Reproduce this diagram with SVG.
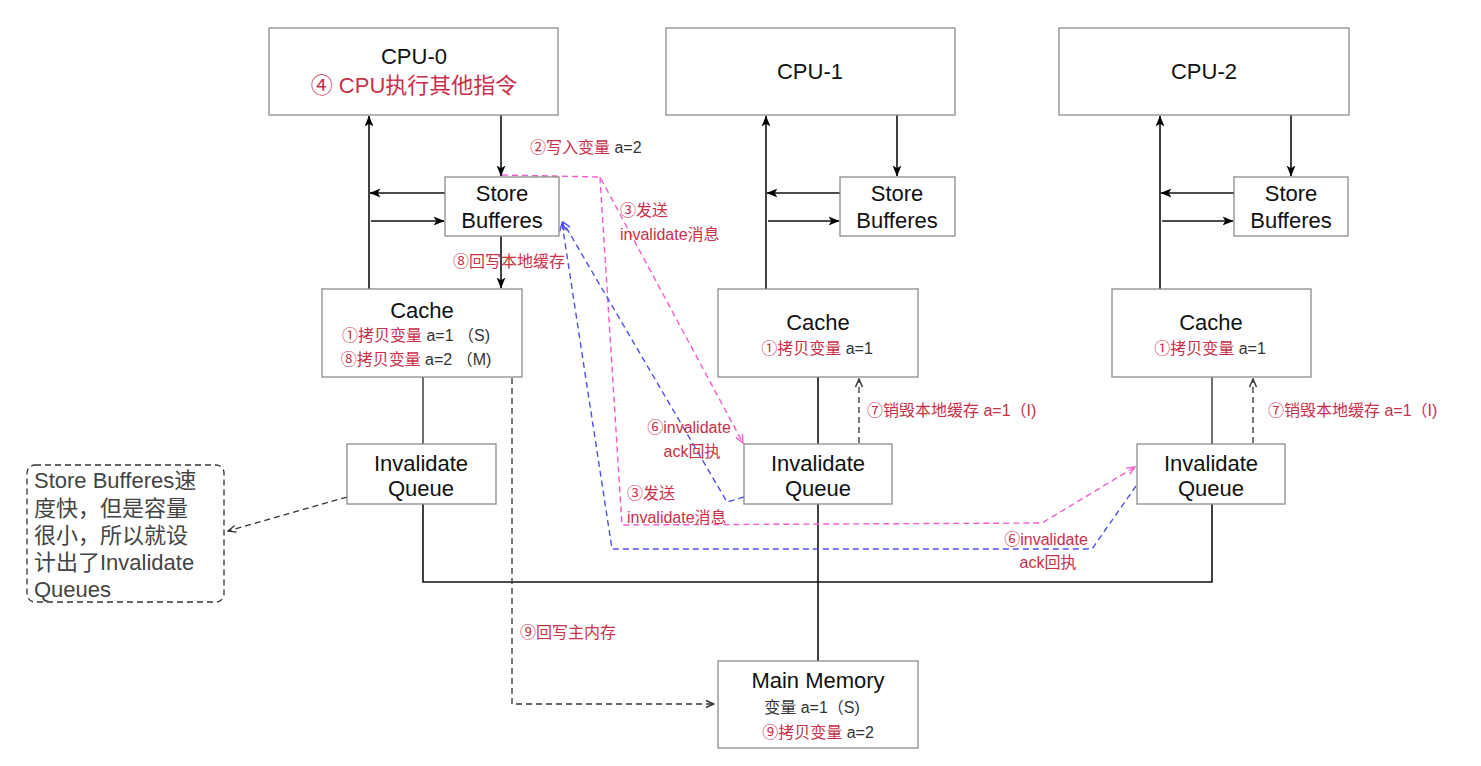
<svg xmlns="http://www.w3.org/2000/svg" width="1481" height="766" viewBox="0 0 1481 766">
<style>
.box{fill:#fff;stroke:#8c8c8c;stroke-width:1.3}
.t{font-family:"Liberation Sans","Noto Sans CJK SC",sans-serif;font-size:22px;fill:#111;text-anchor:middle}
.l{font-family:"Liberation Sans","Noto Sans CJK SC",sans-serif;font-size:16px;fill:#c9304a}
.s{font-family:"Liberation Sans","Noto Sans CJK SC",sans-serif;font-size:16px;fill:#c9304a;text-anchor:middle}
.c{font-family:"Noto Sans CJK SC",sans-serif}
.k{fill:#333}
.ln{fill:none;stroke:#111;stroke-width:1.6}
.gl{fill:none;stroke:#333;stroke-width:1.4}
.dk{fill:none;stroke:#333;stroke-width:1.3;stroke-dasharray:6 4}
.pk{fill:none;stroke:#f25ccd;stroke-width:1.4;stroke-dasharray:6 4}
.bl{fill:none;stroke:#5050ee;stroke-width:1.4;stroke-dasharray:6 4}
.note{fill:#fff;stroke:#333;stroke-width:1.3;stroke-dasharray:6 4}
.nt{font-family:"Liberation Sans","Noto Sans CJK SC",sans-serif;font-size:22px;fill:#444}
</style>
<defs>
<marker id="fa" viewBox="0 0 10 10" refX="9.5" refY="5" markerWidth="11" markerHeight="11" orient="auto" markerUnits="userSpaceOnUse"><path d="M0,1 L10,5 L0,9 L2.5,5 z" fill="#000"/></marker>
<marker id="ok" viewBox="0 0 10 10" refX="9" refY="5" markerWidth="10" markerHeight="10" orient="auto" markerUnits="userSpaceOnUse"><path d="M1,1.5 L9,5 L1,8.5" fill="none" stroke="#333" stroke-width="1.4"/></marker>
<marker id="op" viewBox="0 0 10 10" refX="9" refY="5" markerWidth="10" markerHeight="10" orient="auto" markerUnits="userSpaceOnUse"><path d="M1,1.5 L9,5 L1,8.5" fill="none" stroke="#f25ccd" stroke-width="1.4"/></marker>
<marker id="ob" viewBox="0 0 10 10" refX="9" refY="5" markerWidth="10" markerHeight="10" orient="auto" markerUnits="userSpaceOnUse"><path d="M1,1.5 L9,5 L1,8.5" fill="none" stroke="#5050ee" stroke-width="1.4"/></marker>
</defs>
<rect width="1481" height="766" fill="#fff"/>

<g id="connectors">
<path class="ln" d="M501,115 L501,176" marker-end="url(#fa)"/>
<path class="ln" d="M369,289 L369,116" marker-end="url(#fa)"/>
<path class="ln" d="M445,193 L370,193" marker-end="url(#fa)"/>
<path class="ln" d="M371,221 L444,221" marker-end="url(#fa)"/>
<path class="ln" d="M501,236 L501,288" marker-end="url(#fa)"/>
<path class="ln" d="M897,115 L897,176" marker-end="url(#fa)"/>
<path class="ln" d="M766,289 L766,116" marker-end="url(#fa)"/>
<path class="ln" d="M840,193 L767,193" marker-end="url(#fa)"/>
<path class="ln" d="M768,221 L839,221" marker-end="url(#fa)"/>
<path class="ln" d="M1291,115 L1291,176" marker-end="url(#fa)"/>
<path class="ln" d="M1160,289 L1160,116" marker-end="url(#fa)"/>
<path class="ln" d="M1234,193 L1161,193" marker-end="url(#fa)"/>
<path class="ln" d="M1162,221 L1233,221" marker-end="url(#fa)"/>
<path class="gl" d="M423,377 L423,444"/>
<path class="gl" d="M1212,377 L1212,444"/>
<path class="ln" d="M423,504 L423,582 L1212,582 L1212,504"/>
<path class="ln" d="M818,377 L818,661"/>
<path class="dk" d="M512,378 L512,704 L714,704" marker-end="url(#ok)"/>
<path class="dk" d="M859,443 L859,379" marker-end="url(#ok)"/>
<path class="dk" d="M1253,443 L1253,379" marker-end="url(#ok)"/>
<path class="dk" d="M347,497 L228,531" marker-end="url(#ok)"/>
<path class="pk" d="M502,175 L600,177 L743,443" marker-end="url(#op)"/>
<path class="pk" d="M600,177 L622,525 L1042,523 L1135,467" marker-end="url(#op)"/>
<path class="bl" d="M744,497 L727,502 L563,222" marker-end="url(#ob)"/>
<path class="bl" d="M1136,486 L1092,549 L612,549 L562,223" marker-end="url(#ob)"/>
</g>

<g id="labels">
<text class="l" x="530" y="153"><tspan class="c">②</tspan>写入变量 <tspan class="k">a=2</tspan></text>
<text class="l" x="620" y="216"><tspan class="c">③</tspan>发送</text>
<text class="l" x="620" y="240">invalidate消息</text>
<text class="l" x="453" y="267"><tspan class="c">⑧</tspan>回写本地缓存</text>
<text class="s" x="689" y="433"><tspan class="c">⑥</tspan>invalidate</text>
<text class="s" x="692" y="457">ack回执</text>
<text class="l" x="627" y="499"><tspan class="c">③</tspan>发送</text>
<text class="l" x="627" y="523">invalidate消息</text>
<text class="s" x="1046" y="545"><tspan class="c">⑥</tspan>invalidate</text>
<text class="s" x="1048" y="568">ack回执</text>
<text class="l" x="867" y="416"><tspan class="c">⑦</tspan>销毁本地缓存 a=1（I)</text>
<text class="l" x="1268" y="416"><tspan class="c">⑦</tspan>销毁本地缓存 a=1（I)</text>
<text class="l" x="520" y="638"><tspan class="c">⑨</tspan>回写主内存</text>
</g>

<g id="cpu0"><rect class="box" x="269" y="28" width="289" height="87"/>
<text class="t" x="414" y="64">CPU-0</text>
<text class="t" x="414" y="93" style="fill:#c9304a"><tspan class="c">④</tspan> CPU执行其他指令</text></g>
<g id="cpu1"><rect class="box" x="666" y="28" width="289" height="87"/><text class="t" x="810" y="79">CPU-1</text></g>
<g id="cpu2"><rect class="box" x="1059" y="28" width="290" height="87"/><text class="t" x="1204" y="79">CPU-2</text></g>

<g id="sb0"><rect class="box" x="445" y="177" width="114" height="59"/><text class="t" x="502" y="201">Store</text><text class="t" x="502" y="228">Bufferes</text></g>
<g id="sb1"><rect class="box" x="840" y="177" width="115" height="59"/><text class="t" x="897" y="201">Store</text><text class="t" x="897" y="228">Bufferes</text></g>
<g id="sb2"><rect class="box" x="1234" y="177" width="114" height="59"/><text class="t" x="1291" y="201">Store</text><text class="t" x="1291" y="228">Bufferes</text></g>

<g id="cache0"><rect class="box" x="322" y="289" width="200" height="88"/>
<text class="t" x="422" y="318">Cache</text>
<text class="s" x="416" y="341"><tspan class="c">①</tspan>拷贝变量 <tspan class="k">a=1 （S)</tspan></text>
<text class="s" x="416" y="365"><tspan class="c">⑧</tspan>拷贝变量 <tspan class="k">a=2 （M)</tspan></text></g>
<g id="cache1"><rect class="box" x="718" y="289" width="200" height="88"/>
<text class="t" x="818" y="330">Cache</text>
<text class="s" x="817" y="354"><tspan class="c">①</tspan>拷贝变量 <tspan class="k">a=1</tspan></text></g>
<g id="cache2"><rect class="box" x="1112" y="289" width="199" height="88"/>
<text class="t" x="1211" y="330">Cache</text>
<text class="s" x="1210" y="354"><tspan class="c">①</tspan>拷贝变量 <tspan class="k">a=1</tspan></text></g>

<g id="iq0"><rect class="box" x="347" y="444" width="149" height="60"/><text class="t" x="421" y="471">Invalidate</text><text class="t" x="421" y="496">Queue</text></g>
<g id="iq1"><rect class="box" x="744" y="444" width="148" height="60"/><text class="t" x="818" y="471">Invalidate</text><text class="t" x="818" y="496">Queue</text></g>
<g id="iq2"><rect class="box" x="1137" y="444" width="148" height="60"/><text class="t" x="1211" y="471">Invalidate</text><text class="t" x="1211" y="496">Queue</text></g>

<g id="mem"><rect class="box" x="718" y="661" width="200" height="87"/>
<text class="t" x="818" y="688">Main Memory</text>
<text class="s" x="812" y="713"><tspan class="k">变量 a=1（S)</tspan></text>
<text class="s" x="818" y="738"><tspan class="c">⑨</tspan>拷贝变量 <tspan class="k">a=2</tspan></text></g>

<g id="note"><rect class="note" x="27" y="465" width="197" height="137" rx="8"/>
<text class="nt" x="34" y="488">Store Bufferes速</text>
<text class="nt" x="34" y="516">度快，但是容量</text>
<text class="nt" x="34" y="543">很小，所以就设</text>
<text class="nt" x="34" y="570">计出了Invalidate</text>
<text class="nt" x="34" y="597">Queues</text></g>
</svg>
